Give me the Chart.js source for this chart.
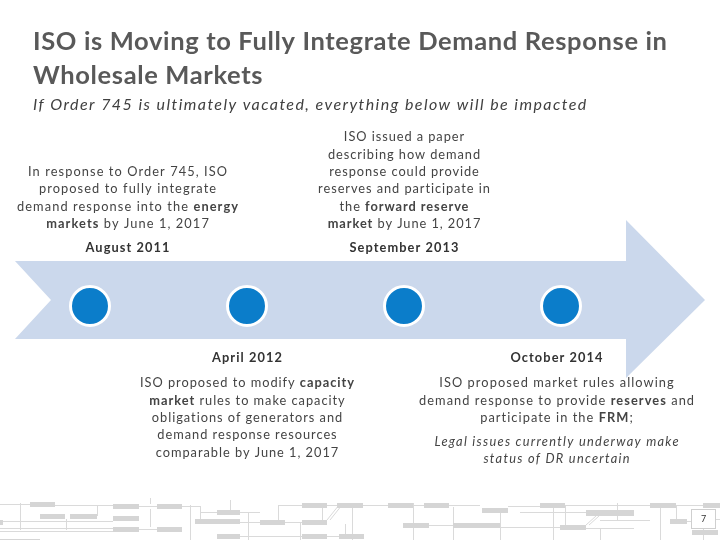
<!DOCTYPE html>
<html><head><meta charset="utf-8">
<script src="https://cdn.jsdelivr.net/npm/chart.js@4/dist/chart.umd.min.js"></script>
<style>html,body{margin:0;padding:0;background:#fff;}#wrap{width:720px;height:540px;position:relative;}</style>
</head><body><div id="wrap"><canvas id="c" width="720" height="540"></canvas></div>
<script>
// ---- data ----
const titleLines = ['ISO is Moving to Fully Integrate Demand Response in', 'Wholesale Markets'];
const subtitleText = 'If Order 745 is ultimately vacated, everything below will be impacted';
const eventDates = ['August 2011', 'April 2012', 'September 2013', 'October 2014'];
const eventIndex = [0, 1, 2, 3];
const eventSide = ['above', 'below', 'above', 'below'];
const eventText = [
  ['In response to Order 745, ISO', 'proposed to fully integrate', 'demand response into the **energy**', '**markets** by June 1, 2017'],
  ['ISO proposed to modify **capacity**', '**market** rules to make capacity', 'obligations of generators and', 'demand response resources', 'comparable by June 1, 2017'],
  ['ISO issued a paper', 'describing how demand', 'response could provide', 'reserves and participate in', 'the **forward reserve**', '**market** by June 1, 2017'],
  ['ISO proposed market rules allowing', 'demand response to provide **reserves** and', 'participate in the **FRM**;']
];
const eventNotes = [[], [], [], ['Legal issues currently underway make', 'status of DR uncertain']];
const pageNumber = '7';

// ---- style / layout ----
const FONT = 'Lato, "Open Sans", sans-serif';
const blockWidth = [221, 214, 172, 275];
const noteWidth = 244;
const dateWidth = 109; // "September 2013"
const LINE = 17.4;

function segs(line) {
  return line.split('**').map((t, i) => ({ t, b: i % 2 === 1 })).filter(s => s.t.length);
}
function setFont(ctx, size, bold, italic) {
  ctx.font = (italic ? 'italic ' : '') + (bold ? '700 ' : '400 ') + size + 'px ' + FONT;
}
function richWidth(ctx, line, size, italic, ls) {
  let w = 0;
  for (const s of segs(line)) { setFont(ctx, size, s.b, italic); ctx.letterSpacing = ls + 'px'; w += ctx.measureText(s.t).width; }
  return w;
}
function fitLS(ctx, lines, size, italic, target, forceBold) {
  let best = 0, n = 0;
  for (const l of lines) {
    const ll = forceBold ? '**' + l + '**' : l;
    const w = richWidth(ctx, ll, size, italic, 0);
    if (w > best) { best = w; n = l.replace(/\*\*/g, '').length; }
  }
  return (target - best) / Math.max(1, n - 1);
}
function drawRich(ctx, line, x, y, size, italic, ls, align, color) {
  const w = richWidth(ctx, line, size, italic, ls) - ls;
  let cx = align === 'center' ? x - w / 2 : x;
  ctx.textAlign = 'left'; ctx.textBaseline = 'middle'; ctx.fillStyle = color;
  for (const s of segs(line)) {
    setFont(ctx, size, s.b, italic); ctx.letterSpacing = ls + 'px';
    ctx.fillText(s.t, cx, y);
    cx += ctx.measureText(s.t).width;
  }
}

const footerRects = [[30,502,25,5],[40,514,25,5],[70,514,27,5],[113,504,26,5],[157,504,25,5],[113,516,26,5],[113,527,26,5],[157,527,25,5],[195,519,45,5],[217,510,23,5],[217,534,23,5],
  [260,520,25,5],[302,503,25,5],[337,503,26,5],[388,503,25,5],[424,503,25,5],[302,520,25,5],[403,523,26,5],[453,523,27,5],[302,534,25,5],[339,534,25,5],
  [482,508,26,5],[540,503,25,5],[480,523,20,5],[586,510,48,6],[560,525,26,5],[650,503,26,5],[703,503,17,5],[670,519,17,5],[692,530,26,5],[0,520,3,5],[0,539,40,1]];
const footerH = [[0,30,504],[55,113,505],[0,113,521],[0,113,528],[0,113,531],[139,157,506],[182,200,506],[200,217,512],[240,260,512],[240,260,522],[240,302,536],[278,302,505],[327,337,505],[363,388,505],[413,424,505],[285,302,522],[429,453,525],[420,480,505],[508,540,506],[565,650,505],[676,703,505],[500,560,527],[520,586,512],[586,634,528],[687,691,521],[600,650,520],[715,720,519],[139,157,529],[327,339,536]];
const footerV = [[20,503,530],[66,519,530],[97,505,516],[150,498,504],[150,509,527],[190,505,540],[200,506,520],[230,500,510],[248,512,540],[278,505,520],[300,523,540],[322,507,520],[345,524,534],[352,507,540],[413,503,540],[453,507,540],[500,512,540],[553,505,540],[565,505,525],[600,528,540],[617,503,520],[660,507,540],[676,505,519],[703,528,540]];

const slidePlugin = {
  id: 'slide',
  beforeDraw(chart) {
    const ctx = chart.ctx;
    ctx.save();
    ctx.fillStyle = '#fff'; ctx.fillRect(0, 0, chart.width, chart.height);
    ctx.strokeStyle = '#dadada'; ctx.lineWidth = 1;
    ctx.beginPath();
    for (const [a, b, y] of footerH) { ctx.moveTo(a, y + 0.5); ctx.lineTo(b, y + 0.5); }
    for (const [x, a, b] of footerV) { ctx.moveTo(x + 0.5, a); ctx.lineTo(x + 0.5, b); }
    ctx.moveTo(327, 520); ctx.lineTo(339, 505); ctx.moveTo(330, 520); ctx.lineTo(342, 505);
    ctx.moveTo(586, 525); ctx.lineTo(596, 516); ctx.moveTo(589, 525); ctx.lineTo(599, 516);
    ctx.stroke();
    ctx.fillStyle = '#d5d5d5';
    for (const [x, y, w, h] of footerRects) ctx.fillRect(x, y, w, h);
    ctx.fillStyle = '#fff'; ctx.fillRect(691, 509, 24, 19);
    ctx.strokeStyle = '#cfcfcf'; ctx.strokeRect(691.5, 509.5, 24, 19);
    ctx.fillStyle = '#333'; ctx.font = '9px ' + FONT; ctx.textAlign = 'center'; ctx.textBaseline = 'middle';
    ctx.fillText(pageNumber, 703.5, 519);
    ctx.restore();
  },
  beforeDatasetsDraw(chart) {
    const ctx = chart.ctx, xs = chart.scales.x, ys = chart.scales.y;
    const x0 = xs.getPixelForValue(eventIndex[0]);
    const x3 = xs.getPixelForValue(eventIndex[eventIndex.length - 1]);
    const cy = ys.getPixelForValue(0) - 6;
    ctx.save();
    ctx.fillStyle = '#cbd8ec';
    ctx.beginPath();
    ctx.moveTo(x0 - 75, cy - 39);
    ctx.lineTo(x3 + 65, cy - 39);
    ctx.lineTo(x3 + 65, cy - 80);
    ctx.lineTo(x3 + 144, cy);
    ctx.lineTo(x3 + 65, cy + 78);
    ctx.lineTo(x3 + 65, cy + 39);
    ctx.lineTo(x0 - 75, cy + 39);
    ctx.lineTo(x0 - 39, cy);
    ctx.closePath();
    ctx.fill();
    ctx.restore();
  },
  afterDatasetsDraw(chart) {
    const ctx = chart.ctx, xs = chart.scales.x, ys = chart.scales.y;
    const cy = ys.getPixelForValue(0);
    ctx.save();
    // title
    const tls = fitLS(ctx, [titleLines[0]], 25.5, false, 634, true);
    titleLines.forEach((l, i) => drawRich(ctx, '**' + l + '**', 33, 42 + i * 34, 25.5, false, tls, 'left', '#595959'));
    const sls = fitLS(ctx, [subtitleText], 16, true, 553, false);
    drawRich(ctx, subtitleText, 33, 105, 16, true, sls, 'left', '#404040');
    // events
    const BS = 12.8;
    const dls = fitLS(ctx, [eventDates[2]], BS, false, dateWidth, true);
    eventIndex.forEach((idx, k) => {
      const px = xs.getPixelForValue(idx);
      const bw = blockWidth[k];
      const cx = Math.min(Math.max(px, 17 + bw / 2), 694 - bw / 2);
      const ls = fitLS(ctx, eventText[k], BS, false, bw, false);
      const lines = eventText[k];
      const col = '#444';
      if (eventSide[k] === 'above') {
        const dy = cy - 58;
        drawRich(ctx, '**' + eventDates[k] + '**', cx, dy, BS, false, dls, 'center', '#333');
        const last = dy - 24;
        lines.forEach((l, i) => drawRich(ctx, l, cx, last - (lines.length - 1 - i) * LINE, BS, false, ls, 'center', col));
      } else {
        const dy = cy + 52;
        drawRich(ctx, '**' + eventDates[k] + '**', cx, dy, BS, false, dls, 'center', '#333');
        const first = cy + 77;
        lines.forEach((l, i) => drawRich(ctx, l, cx, first + i * LINE, BS, false, ls, 'center', col));
        const notes = eventNotes[k];
        if (notes.length) {
          const nls = fitLS(ctx, notes, BS, true, noteWidth, false);
          const ny = first + (lines.length - 1) * LINE + 24;
          notes.forEach((l, i) => drawRich(ctx, l, cx, ny + i * LINE, BS, true, nls, 'center', col));
        }
      }
    });
    ctx.restore();
  }
};

new Chart(document.getElementById('c'), {
  type: 'scatter',
  data: {
    datasets: [{
      label: 'Milestones',
      data: eventIndex.map(i => ({ x: i, y: 0 })),
      pointRadius: 19.5,
      pointHoverRadius: 19.5,
      pointBackgroundColor: '#0b7dca',
      pointBorderColor: '#ffffff',
      pointBorderWidth: 3,
      showLine: false
    }]
  },
  options: {
    responsive: false,
    animation: false,
    events: [],
    layout: { padding: 0, autoPadding: false },
    scales: {
      x: { type: 'linear', display: false, min: -0.5732, max: 4.0127 },
      y: { type: 'linear', display: false, min: -1, max: 1.3077 }
    },
    plugins: { legend: { display: false }, tooltip: { enabled: false }, title: { display: false } }
  },
  plugins: [slidePlugin]
});
</script>
</body></html>
